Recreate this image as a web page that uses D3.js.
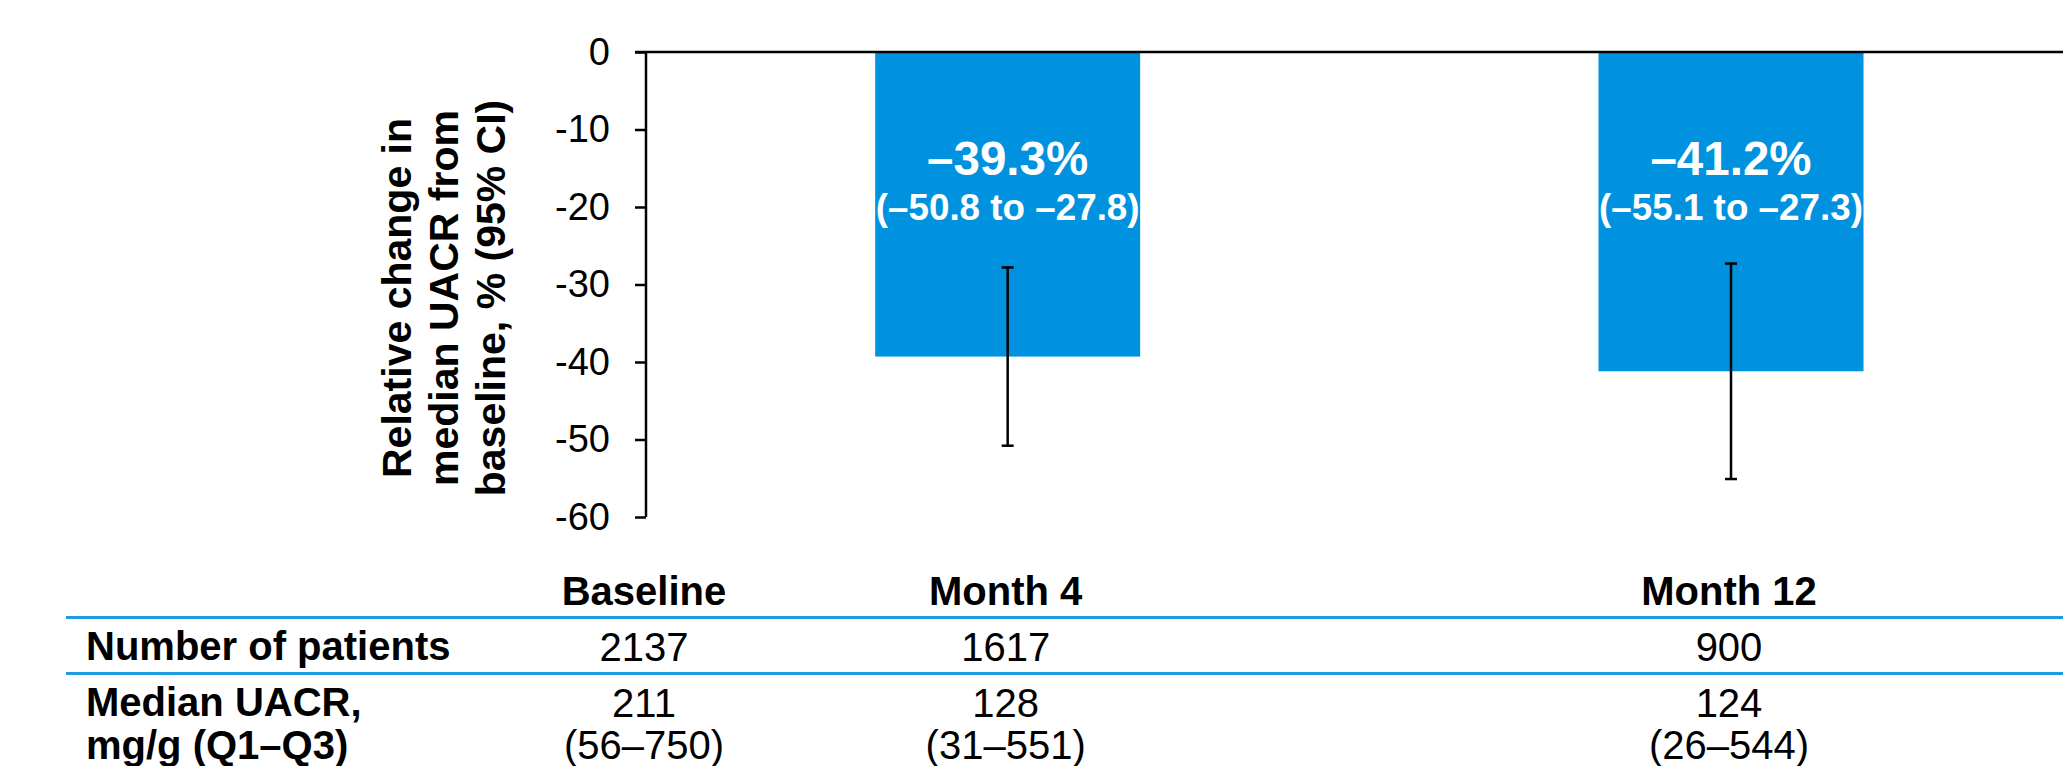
<!DOCTYPE html>
<html>
<head>
<meta charset="utf-8">
<script src="https://cdn.jsdelivr.net/npm/d3@7"></script>
<style>
  html, body { margin: 0; padding: 0; background: #ffffff; }
  svg { display: block; font-family: "Liberation Sans", Arial, Helvetica, sans-serif; }
</style>
</head>
<body>
<svg id="chart" width="2063" height="766"></svg>
<script>
// ---------- data ----------
const timepoints = ["Baseline", "Month 4", "Month 12"];
const months = [0, 4, 12];
const barMonths = [4, 12];
const barValues = [-39.3, -41.2];
const ciLow = [-50.8, -55.1];
const ciHigh = [-27.8, -27.3];
const barLabels = ["\u201339.3%", "\u201341.2%"];
const ciLabels = ["(\u201350.8 to \u201327.8)", "(\u201355.1 to \u201327.3)"];
const yTicks = [0, -10, -20, -30, -40, -50, -60];
const yTitle = ["Relative change in", "median UACR from", "baseline, % (95% CI)"];
const rowLabels = [["Number of patients"], ["Median UACR,", "mg/g (Q1\u2013Q3)"]];
const patients = ["2137", "1617", "900"];
const medianUACR = ["211", "128", "124"];
const iqrUACR = ["(56\u2013750)", "(31\u2013551)", "(26\u2013544)"];

// ---------- layout ----------
const W = 2063, H = 766;
const svg = d3.select("#chart");
const axisX = 646, plotTop = 52, plotBottom = 517;
const barColor = "#0092de";
const lineBlue = "#1e9ce2";

const x = d3.scaleLinear().domain([0, 12]).range([axisX, 1731]);
const y = d3.scaleLinear().domain([0, -60]).range([plotTop, plotBottom]);
const barW = 265;

// bars
svg.append("g").selectAll("rect")
  .data(barValues)
  .join("rect")
  .attr("x", (d, i) => x(barMonths[i]) - barW / 2)
  .attr("y", y(0))
  .attr("width", barW)
  .attr("height", d => y(d) - y(0))
  .attr("fill", barColor);

// error bars
const eb = svg.append("g").attr("stroke", "#000").attr("stroke-width", 2.5);
barMonths.forEach((m, i) => {
  const cx = x(m);
  eb.append("line").attr("x1", cx).attr("x2", cx).attr("y1", y(ciHigh[i])).attr("y2", y(ciLow[i]));
  eb.append("line").attr("x1", cx - 6).attr("x2", cx + 6).attr("y1", y(ciHigh[i])).attr("y2", y(ciHigh[i]));
  eb.append("line").attr("x1", cx - 6).attr("x2", cx + 6).attr("y1", y(ciLow[i])).attr("y2", y(ciLow[i]));
});

// bar labels
const lbl = svg.append("g").attr("fill", "#fff").attr("font-weight", "bold").attr("text-anchor", "middle");
barMonths.forEach((m, i) => {
  lbl.append("text").attr("x", x(m)).attr("y", y(-15.9)).attr("font-size", 47.5).text(barLabels[i]);
  lbl.append("text").attr("x", x(m)).attr("y", y(-21.7)).attr("font-size", 36.8).text(ciLabels[i]);
});

// y axis
const yAxis = d3.axisLeft(y).tickValues(yTicks).tickSize(11).tickPadding(25).tickFormat(d3.format("d"));
const gy = svg.append("g").attr("transform", `translate(${axisX},0)`).call(yAxis);
gy.select(".domain").remove();
gy.append("line").attr("x1", 0).attr("x2", 0).attr("y1", plotTop).attr("y2", plotBottom)
  .attr("stroke", "#000").attr("stroke-width", 2.5);
gy.selectAll(".tick line").attr("stroke", "#000").attr("stroke-width", 2.5);
gy.selectAll(".tick text").attr("font-size", 38).attr("fill", "#000")
  .attr("font-family", "'Liberation Sans', Arial, sans-serif")
  .text(d => d === 0 ? "0" : "-" + Math.abs(d));

// top zero line
svg.append("line").attr("x1", axisX - 11).attr("x2", W).attr("y1", y(0)).attr("y2", y(0))
  .attr("stroke", "#000").attr("stroke-width", 2.5);

// y title
const yt = svg.append("text").attr("transform", "rotate(-90)")
  .attr("text-anchor", "middle").attr("font-weight", "bold").attr("font-size", 41).attr("fill", "#000");
yTitle.forEach((t, i) => {
  yt.append("tspan").attr("x", -298).attr("y", 411 + i * 47).text(t);
});

// ---------- table ----------
const tbl = svg.append("g").attr("fill", "#000").attr("font-size", 40);
// blue rules
[617.5, 673.5].forEach(yy => {
  svg.append("line").attr("x1", 66).attr("x2", W).attr("y1", yy).attr("y2", yy)
    .attr("stroke", lineBlue).attr("stroke-width", 3);
});
// header
tbl.selectAll(".hdr").data(timepoints).join("text")
  .attr("x", (d, i) => x(months[i]) - 2).attr("y", 605)
  .attr("text-anchor", "middle").attr("font-weight", "bold").text(d => d);
// row labels
tbl.append("text").attr("x", 86).attr("y", 660).attr("font-weight", "bold").text(rowLabels[0][0]);
tbl.append("text").attr("x", 86).attr("y", 716).attr("font-weight", "bold").text(rowLabels[1][0]);
tbl.append("text").attr("x", 86).attr("y", 759).attr("font-weight", "bold").text(rowLabels[1][1]);
// values
tbl.selectAll(".np").data(patients).join("text")
  .attr("x", (d, i) => x(months[i]) - 2).attr("y", 661).attr("text-anchor", "middle").text(d => d);
tbl.selectAll(".md").data(medianUACR).join("text")
  .attr("x", (d, i) => x(months[i]) - 2).attr("y", 717).attr("text-anchor", "middle").text(d => d);
tbl.selectAll(".iq").data(iqrUACR).join("text")
  .attr("x", (d, i) => x(months[i]) - 2).attr("y", 759).attr("text-anchor", "middle").text(d => d);
</script>
</body>
</html>
